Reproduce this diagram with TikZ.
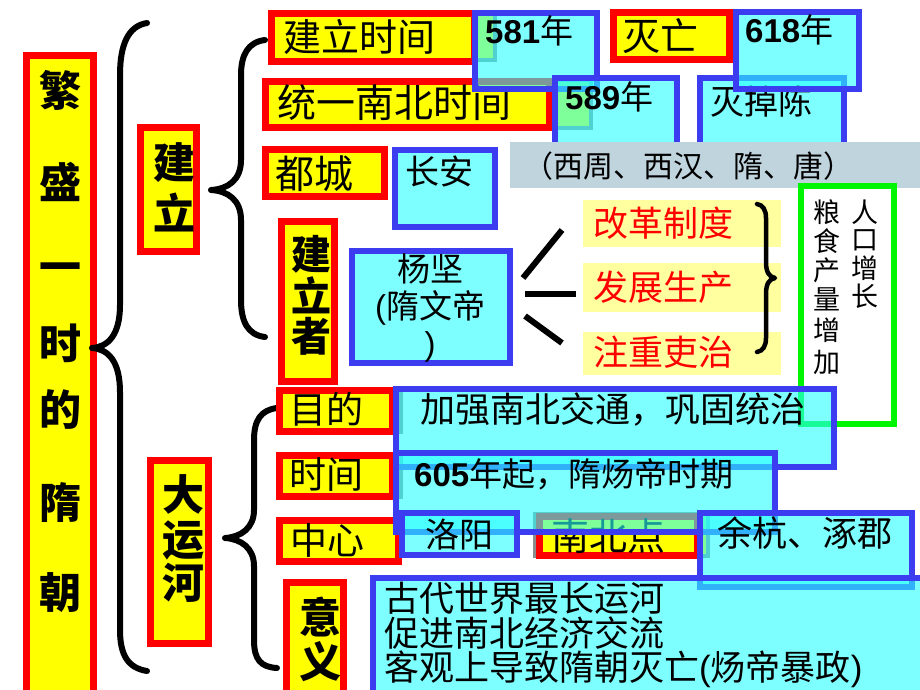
\documentclass[tikz,border=0pt]{standalone}
\usepackage{fontspec}
\setmainfont{Noto Sans CJK SC}
\newfontfamily\lat{Liberation Sans}
\usetikzlibrary{fit}
\definecolor{rd}{RGB}{255,0,0}
\definecolor{yl}{RGB}{255,255,0}
\definecolor{bl}{RGB}{60,60,240}
\definecolor{cy}{RGB}{40,255,255}
\definecolor{lyl}{RGB}{255,255,160}
\definecolor{gb}{RGB}{192,212,222}
\definecolor{gr}{RGB}{0,245,0}
\definecolor{shg}{RGB}{140,140,140}
\begin{document}
\begin{tikzpicture}[x=1pt,y=-1pt,
  redbox/.style={draw=rd, line width=7pt, fill=yl, inner sep=0pt},
  shbox/.style={draw=shg, line width=4pt, fill=yl, inner sep=0pt},
  bluebox/.style={draw=bl, line width=6pt, fill=cy, fill opacity=0.6, inner sep=0pt},
  lybox/.style={fill=lyl, inner sep=0pt},
  bandbox/.style={fill=gb, inner sep=0pt},
  greenbox/.style={draw=gr, line width=6pt, fill=white, inner sep=0pt},
  brace/.style={draw, line width=6pt, line cap=round, line join=round},
  txt/.style={inner sep=0pt, anchor=west, font=\fontsize{#1}{#1}\selectfont},
  vt/.style={inner sep=0pt, anchor=center, font=\fontsize{#1}{#1}\selectfont\bfseries},
  vn/.style={inner sep=0pt, anchor=center, font=\fontsize{#1}{#1}\selectfont},
]
\useasboundingbox (0,0) rectangle (920,690);

% main title column
\node[redbox, fit={(26,56)(93.5,700)}] (fan) {};
\foreach \c/\y [count=\i] in {繁/90,盛/182,一/273,时/343,的/410,隋/503,朝/593}
  \node[vt=42] (fan\i) at (60,\y) {\c};

% big brace
\draw[brace] (147,23) .. controls (128,26) and (120,45) .. (120,75) -- (120,305)
  .. controls (120,335) and (108,347) .. (92,348)
  .. controls (108,349) and (120,361) .. (120,392) -- (120,630)
  .. controls (120,655) and (128,668) .. (147,671);

% 建立
\node[redbox, fit={(140.5,127.5)(196.5,251.5)}] (jl) {};
\node[vt=42] (jl1) at (174,163) {建};
\node[vt=42] (jl2) at (174,212) {立};

% brace 2
\draw[brace] (265,40) .. controls (248,42) and (241,55) .. (241,75) -- (241,160)
  .. controls (241,180) and (228,189) .. (211,190)
  .. controls (228,191) and (241,200) .. (241,220) -- (241,300)
  .. controls (241,322) and (248,335) .. (265,337);

% top rows
\node[shbox, fit={(270,13)(494.5,60.5)}] (sh1) {};
\node[redbox, fit={(271.5,13.5)(474.5,61.5)}] (jlsj) {};
\node[txt=38] (jlsjt) at (283,37) {建立时间};
\node[redbox, fit={(613.5,12.5)(729.5,59.5)}] (mw) {};
\node[txt=38] (mwt) at (622,36) {灭亡};
\node[shbox, fit={(264,80)(590.5,127.5)}] (sh2) {};
\node[redbox, fit={(265.5,81.5)(549.5,127.5)}] (ty) {};
\node[txt=39] (tyt) at (277,103) {统一南北时间};

\node[bluebox, fit={(475,13)(597,89)}] (b581) {};
\node[txt=33] (b581t) at (485,31) {{\lat\bfseries 581}年};
\node[bluebox, fit={(700,78)(844,150)}] (mdc) {};
\node[txt=34] (mdct) at (710,101) {灭掉陈};
\node[bluebox, fit={(736,12)(859,89)}] (b618) {};
\node[txt=33] (b618t) at (745,30) {{\lat\bfseries 618}年};
\node[bluebox, fit={(555,78)(677,150)}] (b589) {};
\node[txt=33] (b589t) at (565,97) {{\lat\bfseries 589}年};

% band
\node[bandbox, fit={(510,142)(920,188)}] (band) {};
\node[vn=30] (bandt) at (688,166) {（西周、西汉、隋、唐）};

% 都城
\node[redbox, fit={(265.5,149.5)(384.5,196.5)}] (dc) {};
\node[txt=39] (dct) at (275,174) {都城};
\node[bluebox, fit={(395,150)(495,227)}] (ca) {};
\node[txt=34] (cat) at (405,171) {长安};

% 建立者
\node[redbox, fit={(281.5,221.5)(334.5,381.5)}] (jlz) {};
\node[vt=40] (jlz1) at (311,254) {建};
\node[vt=40] (jlz2) at (311,295) {立};
\node[vt=40] (jlz3) at (311,336) {者};
\node[bluebox, fit={(352,251)(510,363)}] (yj) {};
\node[vn=33, align=center, font=\fontsize{33}{37}\selectfont] (yjt) at (430,308) {杨坚\\{\lat(}隋文帝\\{\lat)}};

% three strokes
\coordinate (s1a) at (523,278); \coordinate (s1b) at (562,230);
\coordinate (s2a) at (525,294); \coordinate (s2b) at (576,294);
\coordinate (s3a) at (525,316); \coordinate (s3b) at (562,343);
\draw[line width=6pt] (s1a) -- (s1b);
\draw[line width=6pt] (s2a) -- (s2b);
\draw[line width=6pt] (s3a) -- (s3b);

% measures
\node[lybox, fit={(583,200)(781,247)}] (y1) {};
\node[lybox, fit={(583,263)(781,312)}] (y2) {};
\node[lybox, fit={(583,332)(781,375)}] (y3) {};
\node[txt=35, text=rd] (y1t) at (593,223) {改革制度};
\node[txt=35, text=rd] (y2t) at (593,287) {发展生产};
\node[txt=35, text=rd] (y3t) at (593,352) {注重吏治};

% brace 3
\draw[brace, line width=4.5pt] (757,204) .. controls (763,205) and (766,210) .. (766,218) -- (766,262)
  .. controls (766,272) and (769,277) .. (775,278)
  .. controls (769,279) and (766,284) .. (766,294) -- (766,338)
  .. controls (766,346) and (763,351) .. (757,352);

% result box
\node[greenbox, fit={(801,186)(894,424)}] (res) {};
\foreach \c/\y [count=\i] in {粮/212,食/241,产/270,量/299,增/330,加/362}
  \node[vn=27] (ra\i) at (827,\y) {\c};
\foreach \c/\y [count=\i] in {人/212,口/240,增/268,长/296}
  \node[vn=27] (rb\i) at (865,\y) {\c};

% brace 4
\draw[brace] (277,408) .. controls (261,410) and (254,420) .. (254,440) -- (254,510)
  .. controls (254,528) and (241,537) .. (225,538)
  .. controls (241,539) and (254,548) .. (254,566) -- (254,640)
  .. controls (254,660) and (261,667) .. (277,668);

% 大运河
\node[redbox, fit={(150.5,460.5)(208.5,643.5)}] (dyh) {};
\node[vt=42] (dyh1) at (183,494) {大};
\node[vt=42] (dyh2) at (183,540) {运};
\node[vt=42] (dyh3) at (183,583) {河};

% canal rows
\node[shbox, fit={(278,390)(400.5,432)}] (sh3) {};
\node[redbox, fit={(279.5,390.5)(392.5,431.5)}] (md) {};
\node[txt=37] (mdt) at (289,409) {目的};
\node[shbox, fit={(278,455)(400.5,497)}] (sh4) {};
\node[redbox, fit={(279.5,455.5)(392.5,496.5)}] (sj) {};
\node[txt=37] (sjt) at (289,475) {时间};
\node[redbox, fit={(279.5,520.5)(398.5,561.5)}] (zx) {};
\node[txt=37] (zxt) at (290,540) {中心};
\node[shbox, fit={(535,514)(708,555.5)}] (sh5) {};
\node[redbox, fit={(539.5,516)(697,555.5)}] (nbd) {};
\node[txt=38] (nbdt) at (551,536) {南北点};
\node[redbox, fit={(286.5,582.5)(343.5,700)}] (yy) {};
\node[vt=42] (yy1) at (320,617) {意};
\node[vt=42] (yy2) at (320,662) {义};

\node[bluebox, fit={(396,389)(834,467)}] (jq) {};
\node[txt=35] (jqt) at (420,410) {加强南北交通，巩固统治};
\node[bluebox, fit={(396,453)(775,532)}] (s605) {};
\node[txt=33] (s605t) at (414,474) {{\lat\bfseries 605}年起，隋炀帝时期};
\node[bluebox, fit={(402,513)(517,555)}] (ly) {};
\node[txt=34] (lyt) at (425,535) {洛阳};
\node[bluebox, fit={(700,513)(912,587)}] (yh) {};
\node[txt=35] (yht) at (717,533) {余杭、涿郡};
\node[bluebox, fit={(373,578)(925,700)}] (yyc) {};
\node[txt=35, anchor=north west, align=left, font=\fontsize{35}{34.5}\selectfont] (yyct) at (384,582)
  {古代世界最长运河\\促进南北经济交流\\客观上导致隋朝灭亡{\lat(}炀帝暴政{\lat)}};
\end{tikzpicture}
\end{document}
